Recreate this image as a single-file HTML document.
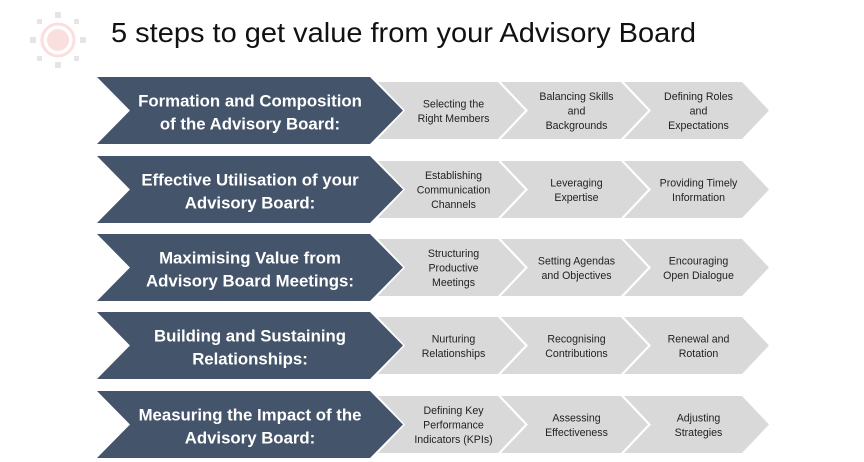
<!DOCTYPE html>
<html><head><meta charset="utf-8"><style>
body{margin:0;background:#fff;width:864px;height:462px;overflow:hidden}
svg{display:block}
.t{font-family:"Liberation Sans",sans-serif}
.d{fill:#fff;font-weight:bold;font-size:16.8px;text-anchor:middle}
.g{fill:#222;font-size:10.6px;text-anchor:middle}
</style></head><body>
<svg width="864" height="462" viewBox="0 0 864 462" class="t">
<g opacity="0.25">
<circle cx="58" cy="40" r="16" fill="none" stroke="#f08080" stroke-width="3"/>
<circle cx="58" cy="40" r="11" fill="#f08080"/>
<g fill="#999"><rect x="55" y="12" width="6" height="6"/><rect x="55" y="62" width="6" height="6"/><rect x="30" y="37" width="6" height="6"/><rect x="80" y="37" width="6" height="6"/>
<rect x="37" y="19" width="5" height="5"/><rect x="74" y="19" width="5" height="5"/><rect x="37" y="56" width="5" height="5"/><rect x="74" y="56" width="5" height="5"/></g>
</g>
<text x="111" y="42" font-size="28" fill="#111" textLength="585" lengthAdjust="spacingAndGlyphs">5 steps to get value from your Advisory Board</text>
<g id="rows"></g>
</svg>
<script>
var rows=[
["Formation and Composition","of the Advisory Board:",[["Selecting the","Right Members"],["Balancing Skills","and","Backgrounds"],["Defining Roles","and","Expectations"]]],
["Effective Utilisation of your","Advisory Board:",[["Establishing","Communication","Channels"],["Leveraging","Expertise"],["Providing Timely","Information"]]],
["Maximising Value from","Advisory Board Meetings:",[["Structuring","Productive","Meetings"],["Setting Agendas","and Objectives"],["Encouraging","Open Dialogue"]]],
["Building and Sustaining","Relationships:",[["Nurturing","Relationships"],["Recognising","Contributions"],["Renewal and","Rotation"]]],
["Measuring the Impact of the","Advisory Board:",[["Defining Key","Performance","Indicators (KPIs)"],["Assessing","Effectiveness"],["Adjusting","Strategies"]]]];
var tops=[77,156,234,312,391],s="";
rows.forEach(function(r,i){
var t=tops[i],h=67,c=t+h/2,gt=t+5,gb=t+h-5;
var gx=[[378,498,525],[501,621,648],[624,742,769]];
gx.forEach(function(g,j){
s+='<polygon fill="#d9d9d9" points="'+g[0]+','+gt+' '+g[1]+','+gt+' '+g[2]+','+c+' '+g[1]+','+gb+' '+g[0]+','+gb+' '+(g[0]+27)+','+c+'"/>';
var lines=r[2][j],cx=(g[0]+27+g[1])/2+2,n=lines.length;
lines.forEach(function(l,k){s+='<text class="g" x="'+cx+'" y="'+(c+4+(k-(n-1)/2)*14.5)+'">'+l+'</text>';});
});
s+='<polygon fill="#44546a" points="97,'+t+' 370,'+t+' 403,'+c+' 370,'+(t+h)+' 97,'+(t+h)+' 130,'+c+'"/>';
s+='<text class="d" x="250" y="'+(c-4)+'">'+r[0]+'</text><text class="d" x="250" y="'+(c+19)+'">'+r[1]+'</text>';
});
document.getElementById('rows').innerHTML=s;
</script>
</body></html>
